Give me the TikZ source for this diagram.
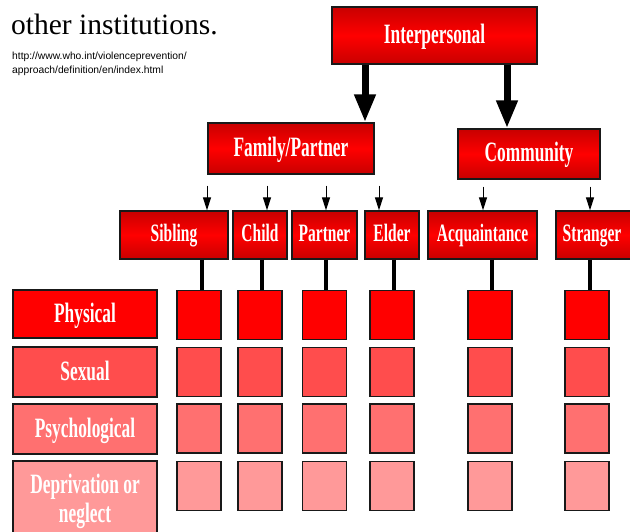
\documentclass[tikz,border=0pt]{standalone}
\usepackage{fontspec}
\setmainfont{Liberation Serif}
\newfontfamily\lblfont[FakeStretch=0.62]{Liberation Serif}
\newfontfamily\urlfont{Liberation Sans}
\usetikzlibrary{arrows.meta}
\definecolor{rowA}{RGB}{255,0,0}
\definecolor{rowB}{RGB}{255,77,77}
\definecolor{rowC}{RGB}{255,112,112}
\definecolor{rowD}{RGB}{255,153,153}
\definecolor{edgec}{RGB}{25,25,25}
\definecolor{darkred}{RGB}{200,0,0}
\begin{document}
\begin{tikzpicture}[x=1pt,y=-1pt,
  treebox/.style={draw=edgec,line width=1.3pt,top color=darkred,bottom color=darkred,middle color=red,
    text=white,inner sep=0pt,text height=19pt,text depth=3pt,font=\lblfont\bfseries\fontsize{28}{30}\selectfont},
  subbox/.style={treebox,font=\lblfont\bfseries\fontsize{25}{27}\selectfont,minimum height=48pt,
    text height=17pt,text depth=4pt},
  rowlabel/.style={draw=edgec,line width=1.3pt,text=white,inner sep=0pt,minimum width=144pt,
    align=center,font=\lblfont\bfseries\fontsize{28}{29}\selectfont},
  single/.style={text height=19pt,text depth=3pt},
  cell/.style={draw=edgec,line width=1.3pt,inner sep=0pt,minimum width=44pt,minimum height=49pt},
  bigarrow/.style={line width=7pt,-{Triangle[width=20pt,length=28pt]}},
  smallarrow/.style={line width=1pt,-{Triangle[width=8pt,length=13pt]}},
  vline/.style={line width=3.5pt}
]
\useasboundingbox (0,0) rectangle (630,532);
\clip (0,0) rectangle (630,532);

% header text
\node[anchor=base west,inner sep=0pt,font=\fontsize{29.5}{31}\selectfont] (title) at (11,35) {other institutions.};
\node[anchor=north west,inner sep=0pt,align=left,font=\urlfont\fontsize{10.3}{13.5}\selectfont] (url) at (12,52)
  {http://www.who.int/violenceprevention/\\approach/definition/en/index.html};

% tree boxes
\node[treebox,minimum width=205pt,minimum height=57pt] (inter) at (434.5,35.5) {Interpersonal};
\node[treebox,minimum width=166pt,minimum height=51pt] (fam) at (291,148.5) {Family/Partner};
\node[treebox,minimum width=142pt,minimum height=50pt] (comm) at (529,154) {Community};

\node[subbox,minimum width=108pt] (sib) at (174,235) {Sibling};
\node[subbox,minimum width=54pt] (child) at (260,235) {Child};
\node[subbox,minimum width=65pt] (partner) at (324.5,235) {Partner};
\node[subbox,minimum width=54pt] (elder) at (392,235) {Elder};
\node[subbox,minimum width=109pt] (acq) at (482.5,235) {Acquaintance};
\node[subbox,minimum width=78pt] (str) at (595,235) {\hspace*{-6pt}Stranger};

% big arrows
\draw[bigarrow] (inter.south -| 365,0) -- (fam.north -| 365,0);
\draw[bigarrow] (inter.south -| 507,0) -- (comm.north -| 507,0);

% small arrows
\foreach \x/\t in {207/sib,267/child,326/partner,379/elder}
  \draw[smallarrow] ([yshift=-11pt]fam.south -| \x,0) -- (\t.north -| \x,0);
\foreach \x/\t in {483/acq,590/str}
  \draw[smallarrow] ([yshift=-7pt]comm.south -| \x,0) -- (\t.north -| \x,0);

% row labels
\node[rowlabel,single,fill=rowA,minimum height=48pt] (physical) at (85,314) {Physical};
\node[rowlabel,single,fill=rowB,minimum height=50pt] (sexual) at (85,372) {Sexual};
\node[rowlabel,single,fill=rowC,minimum height=50pt] (psych) at (85,429) {Psychological};
\node[rowlabel,fill=rowD,minimum height=80pt] (depr) at (85,501) {Deprivation or\\neglect};

% cells
\foreach \c/\x in {1/199,2/260,3/324.5,4/392,5/490,6/587}{
  \node[cell,fill=rowA] (c\c r1) at (\x,315) {};
  \node[cell,fill=rowB] (c\c r2) at (\x,372) {};
  \node[cell,fill=rowC] (c\c r3) at (\x,428.5) {};
  \node[cell,fill=rowD] (c\c r4) at (\x,486) {};
}

% vertical connectors
\foreach \x/\t/\c in {202/sib/1,262/child/2,326/partner/3,394/elder/4,492/acq/5,590/str/6}
  \draw[vline] (\t.south -| \x,0) -- (c\c r1.north -| \x,0);
\end{tikzpicture}
\end{document}
